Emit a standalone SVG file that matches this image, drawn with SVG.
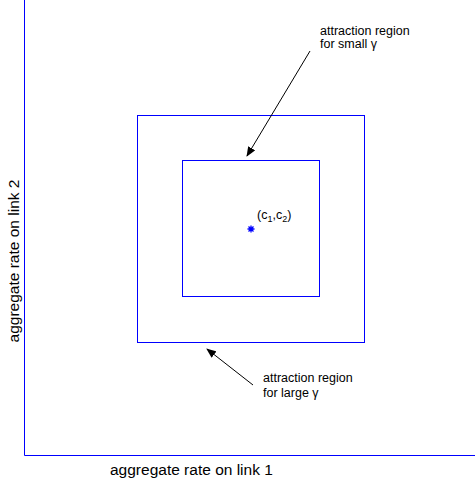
<svg xmlns="http://www.w3.org/2000/svg" width="475" height="482" viewBox="0 0 475 482">
<style>
text{font-family:"Liberation Sans",Arial,sans-serif;fill:#000}
.lbl{font-size:15.5px}
.note{font-size:12.5px}
.b{fill:none;stroke:#0000ff;stroke-width:1}
.arr{stroke:#000;stroke-width:1;fill:none;marker-end:url(#ah)}
</style>
<defs>
<marker id="ah" markerWidth="10" markerHeight="8" refX="9" refY="4" orient="auto" markerUnits="userSpaceOnUse">
<path d="M0,0 L10,4 L0,8 z" fill="#000"/>
</marker>
</defs>
<g id="axes">
<path class="b" d="M24.5,0 V455.5 H475"/>
</g>
<g id="outer-region"><rect class="b" x="137.5" y="115.5" width="227" height="227"/></g>
<g id="inner-region"><rect class="b" x="182.5" y="160.5" width="137" height="136"/></g>
<g id="equilibrium">
<path d="M251,225.5 V232.5 M247.5,229 H254.5 M248.5,226.5 L253.5,231.5 M253.5,226.5 L248.5,231.5" stroke="#0000ff" stroke-width="1.3" fill="none"/>
<text class="note" x="257" y="219">(c<tspan font-size="9" dy="3">1</tspan><tspan dy="-3">,c</tspan><tspan font-size="9" dy="3">2</tspan><tspan dy="-3">)</tspan></text>
</g>
<g id="label-small">
<text class="note" x="320" y="35">attraction region</text>
<text class="note" x="320" y="48">for small γ</text>
</g>
<g id="label-large">
<text class="note" x="263" y="382">attraction region</text>
<text class="note" x="263" y="397">for large γ</text>
</g>
<g id="connectors">
<line class="arr" x1="310" y1="51" x2="247" y2="156"/>
<line class="arr" x1="253" y1="385" x2="207" y2="349"/>
</g>
<text class="lbl" x="110" y="475">aggregate rate on link 1</text>
<text class="lbl" transform="translate(19,261) rotate(-90)" text-anchor="middle">aggregate rate on link 2</text>
</svg>
